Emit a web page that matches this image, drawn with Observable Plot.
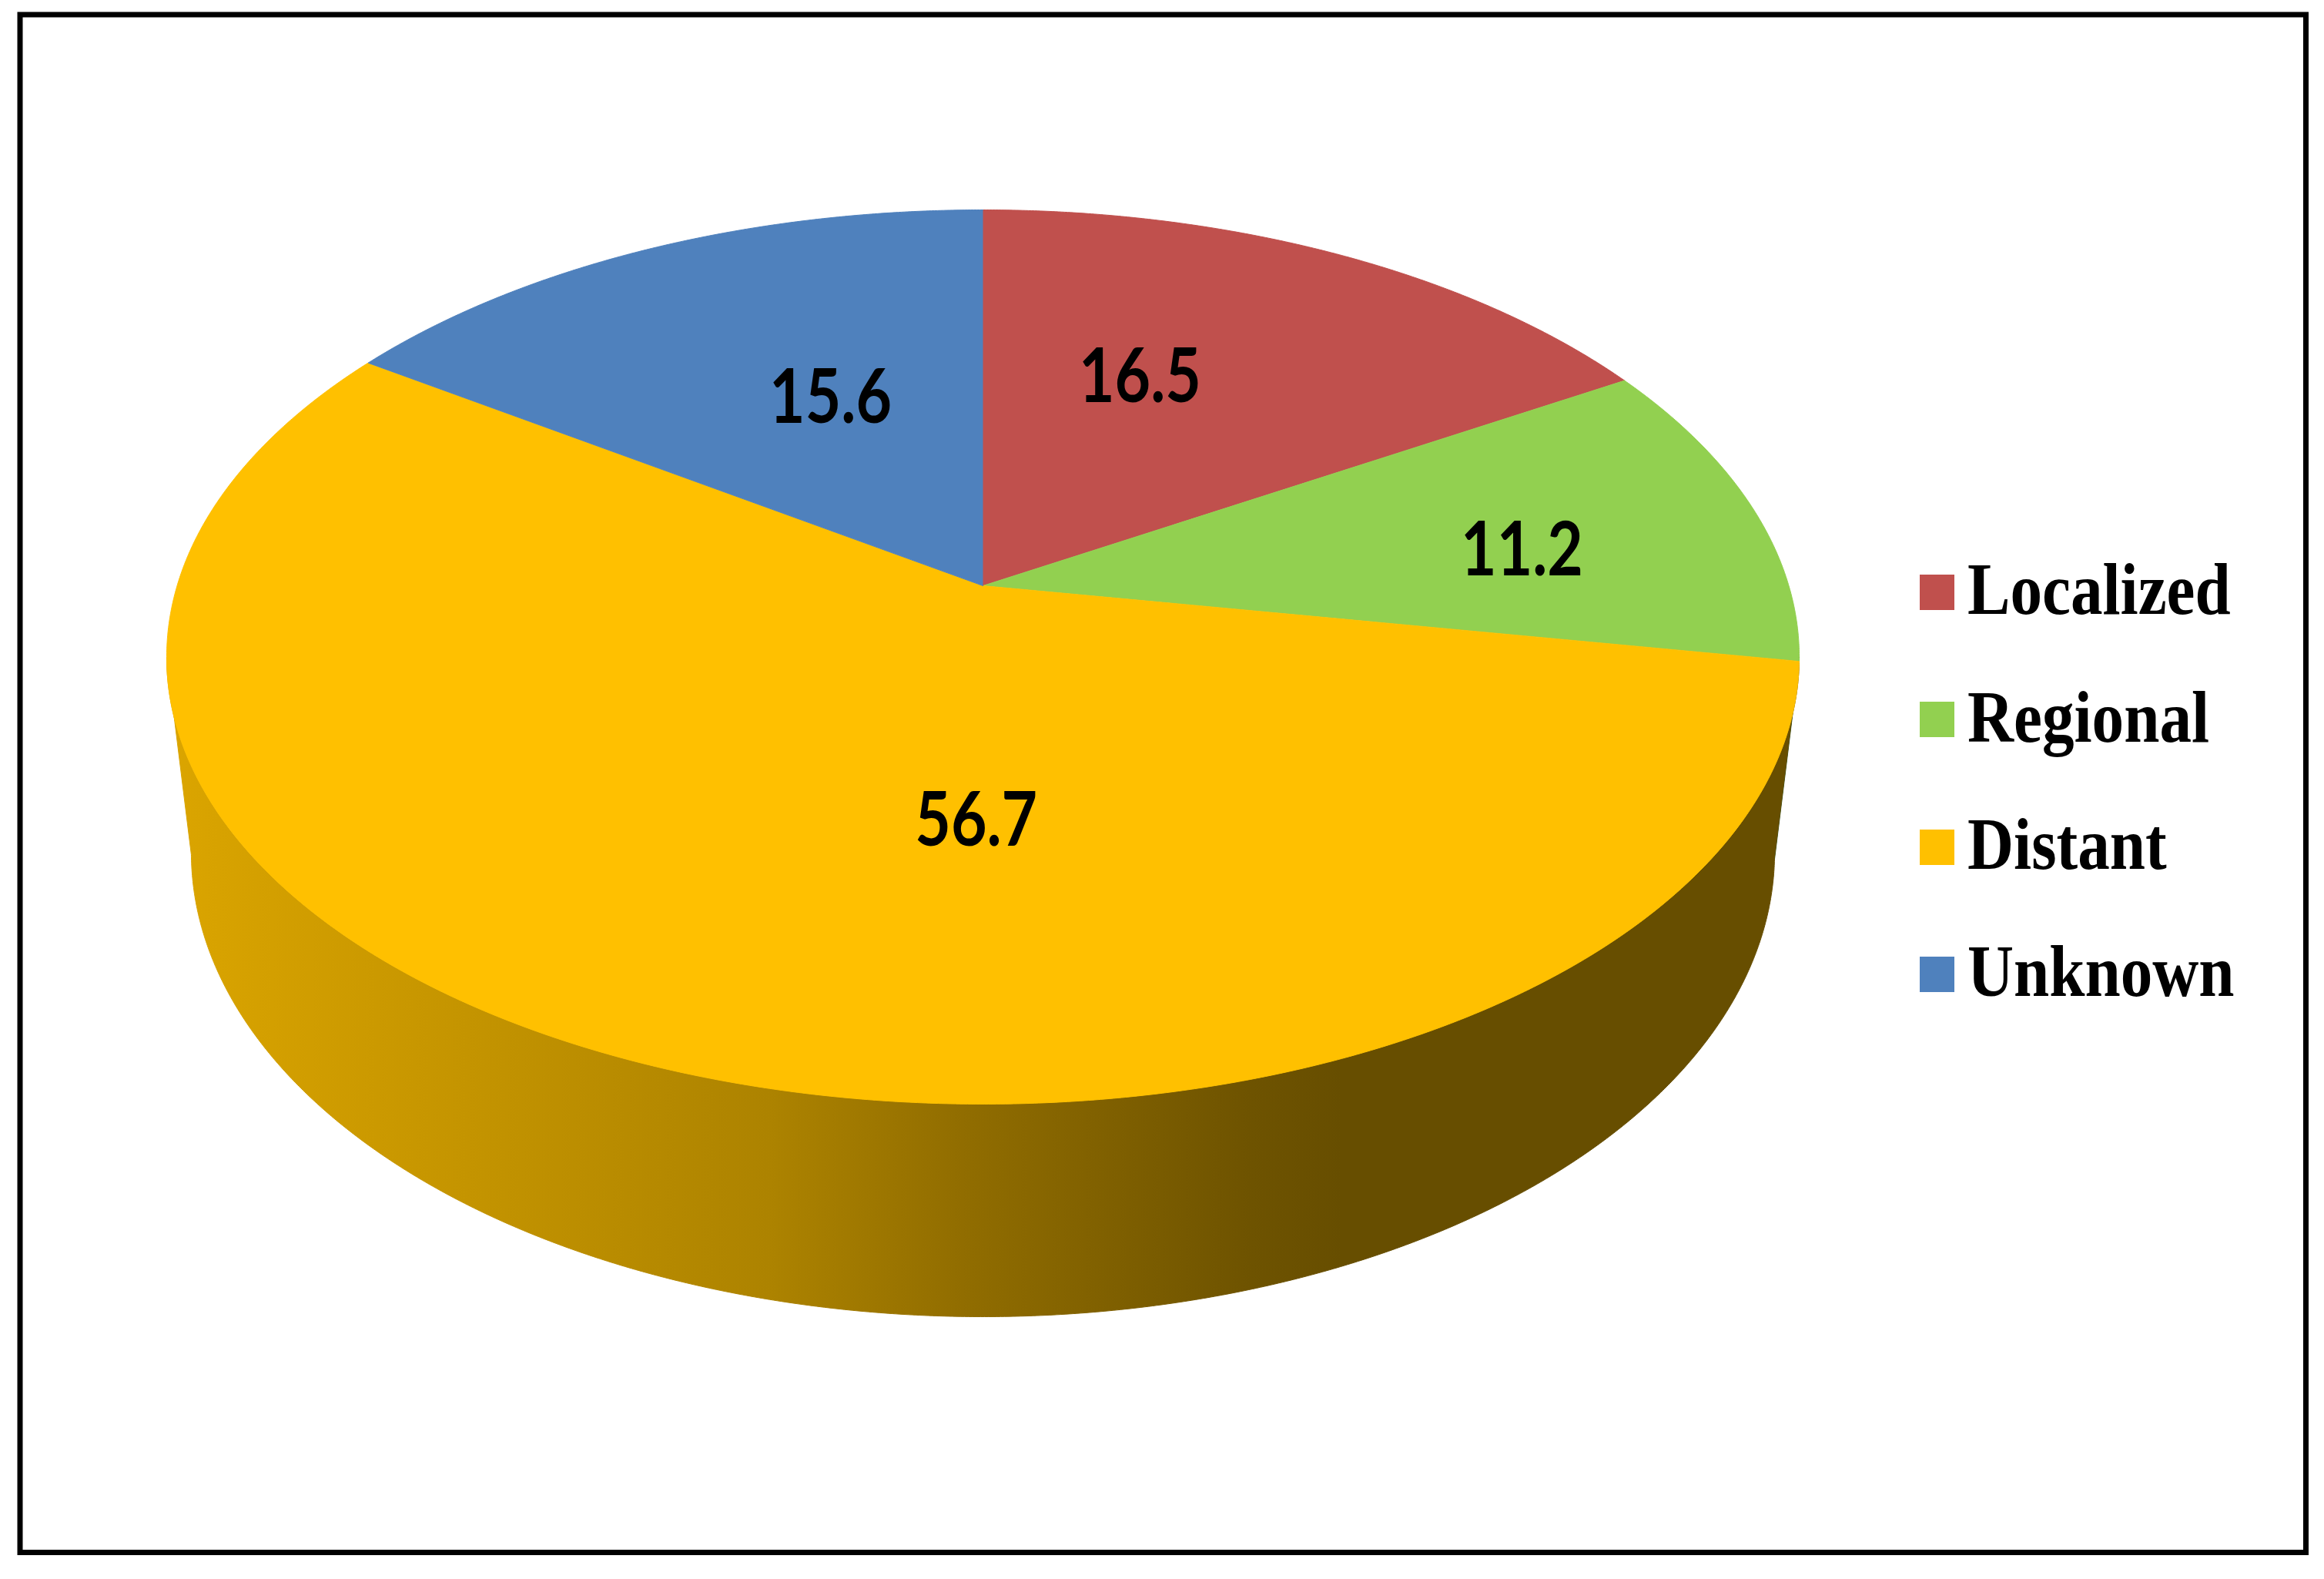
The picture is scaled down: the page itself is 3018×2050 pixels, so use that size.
<!DOCTYPE html>
<html>
<head>
<meta charset="utf-8">
<script src="https://cdn.jsdelivr.net/npm/d3@7"></script>
<script src="https://cdn.jsdelivr.net/npm/@observablehq/plot@0.6"></script>
<style>
  html, body { margin: 0; padding: 0; background: #fff; }
  #wrap { position: relative; width: 3018px; height: 2050px; overflow: hidden; }
  #wrap svg { position: absolute; left: 0; top: 0; }
  .lg-sq { position: absolute; }
  .lg-tx { position: absolute; font-family: "Liberation Serif", "Times New Roman", serif; font-weight: bold;
           font-size: 95px; line-height: 95px; white-space: nowrap; color: #000;
           transform: scaleX(0.875); transform-origin: left center; }
</style>
</head>
<body>
<div id="wrap"></div>
<script>
// ---------- data ----------
const categories = ["Localized", "Regional", "Distant", "Unknown"];
const values = [16.5, 11.2, 56.7, 15.6];
const colors = ["#C0504D", "#92D050", "#FFC000", "#4F81BD"];

// ---------- layout (3D view of the pie) ----------
const W = 3018, H = 2050;
const cx0 = 1276, cy0 = 760, A = 1046.5;       // apex position and scale of the pie in px
const k = 0.1593;                               // perspective strength
const sinA = 0.5406, cosA = Math.sqrt(1 - sinA * sinA); // tilt
const depth = 0.2963;                           // thickness relative to radius
const jj = depth * (k / cosA) * sinA;
// label anchors (angle in degrees clockwise from top, radius fraction) per slice
const labelAngle = [21.9, 82.6, 180.9, 336.6];
const labelRadius = [0.566, 0.684, 0.492, 0.512];
// side shading multipliers along the horizontal extent
const sideStops = [[0, 0.86], [0.369, 0.68], [0.487, 0.57], [0.664, 0.43], [0.72, 0.405], [1, 0.405]];

const rad = d => d * Math.PI / 180;
function topP(theta, rho = 1) {
  const c = Math.cos(theta), s = Math.sin(theta);
  const den = 1 + k * rho * c;
  return { u: rho * s / den, v: sinA * rho * c / den };
}
function botP(theta) {
  const c = Math.cos(theta), s = Math.sin(theta);
  const den = 1 + jj + k * c;
  return { u: s / den, v: (-depth * cosA + sinA * c) / den };
}

const total = d3.sum(values);
const slices = [];
let acc = 0;
categories.forEach((name, i) => {
  const a0 = acc / total * 2 * Math.PI;
  acc += values[i];
  const a1 = acc / total * 2 * Math.PI;
  slices.push({ name, value: values[i], color: colors[i], a0, a1, i });
});

const step = rad(0.25);
const topPts = [];
for (const s of slices) {
  topPts.push({ key: s.name, ...topP(0, 0), fill: s.color });
  const n = Math.max(2, Math.ceil((s.a1 - s.a0) / step));
  for (let t = 0; t <= n; t++) {
    const th = s.a0 + (s.a1 - s.a0) * t / n;
    topPts.push({ key: s.name, ...topP(th), fill: s.color });
  }
}

const vis0 = Math.acos(-k), vis1 = 2 * Math.PI - Math.acos(-k);
const sidePts = [];
for (const s of slices) {
  const b0 = Math.max(s.a0, vis0), b1 = Math.min(s.a1, vis1);
  if (b1 <= b0) continue;
  const n = Math.max(2, Math.ceil((b1 - b0) / step));
  const f = `url(#side-${s.i})`;
  for (let t = 0; t <= n; t++) {
    const th = b0 + (b1 - b0) * t / n;
    sidePts.push({ key: "side-" + s.name, ...topP(th), fill: f });
  }
  for (let t = n; t >= 0; t--) {
    const th = b0 + (b1 - b0) * t / n;
    sidePts.push({ key: "side-" + s.name, ...botP(th), fill: f });
  }
}

const fmt = d3.format(".1f");
const labels = slices.map(s => ({ ...topP(rad(labelAngle[s.i]), labelRadius[s.i]), text: fmt(s.value) }));

const plot = Plot.plot({
  width: W, height: H,
  marginLeft: 25.5, marginRight: 24, marginTop: 18.5, marginBottom: 35,
  x: { domain: [-1, 1], range: [cx0 - A, cx0 + A], axis: null },
  y: { domain: [-1, 1], range: [cy0 + A, cy0 - A], axis: null },
  color: { type: "identity" },
  style: { background: "#fff" },
  marks: [
    Plot.frame({ stroke: "#000", strokeWidth: 7 }),
    Plot.line(sidePts, { x: "u", y: "v", z: "key", fill: "fill", stroke: "fill", strokeWidth: 1 }),
    Plot.line(topPts, { x: "u", y: "v", z: "key", fill: "fill", stroke: "fill", strokeWidth: 1 }),
    Plot.text(labels, { x: "u", y: "v", text: "text", fontSize: 98, fontWeight: "bold",
      fontFamily: "Lato, 'Open Sans', sans-serif", fill: "#000", dy: 4, className: "pie-labels" })
  ]
});

// gradients for the side of the pie
const xs = plot.scale("x");
const ext = 1 / Math.sqrt(1 - k * k);
const gx1 = xs.apply(-ext), gx2 = xs.apply(ext);
const ns = "http://www.w3.org/2000/svg";
const defs = document.createElementNS(ns, "defs");
for (const s of slices) {
  const g = document.createElementNS(ns, "linearGradient");
  g.setAttribute("id", `side-${s.i}`);
  g.setAttribute("gradientUnits", "userSpaceOnUse");
  g.setAttribute("x1", gx1); g.setAttribute("x2", gx2);
  g.setAttribute("y1", 0); g.setAttribute("y2", 0);
  const base = d3.rgb(s.color);
  for (const [off, m] of sideStops) {
    const st = document.createElementNS(ns, "stop");
    st.setAttribute("offset", off);
    st.setAttribute("stop-color", d3.rgb(base.r * m, base.g * m, base.b * m).formatHex());
    g.appendChild(st);
  }
  defs.appendChild(g);
}
plot.insertBefore(defs, plot.firstChild);

// narrow the label glyphs like the original
plot.querySelectorAll(".pie-labels text").forEach(t => {
  const tr = t.getAttribute("transform");
  if (tr) {
    t.setAttribute("transform", tr + " scale(0.82,1)");
  } else {
    const x = +t.getAttribute("x") || 0;
    t.setAttribute("transform", `translate(${x},0) scale(0.82,1) translate(${-x},0)`);
  }
});

const wrap = document.getElementById("wrap");
wrap.appendChild(plot);

// legend
const lgLeft = 2493, lgSq = 46, lgTextLeft = 2555, lgBase0 = 798, lgStep = 165.3;
categories.forEach((name, i) => {
  const base = lgBase0 + i * lgStep;
  const sq = document.createElement("div");
  sq.className = "lg-sq";
  sq.style.left = lgLeft + "px";
  sq.style.top = (base - 52) + "px";
  sq.style.width = "45px";
  sq.style.height = lgSq + "px";
  sq.style.background = colors[i];
  wrap.appendChild(sq);
  const tx = document.createElement("div");
  tx.className = "lg-tx";
  tx.style.left = lgTextLeft + "px";
  tx.style.top = (base - 79.6) + "px";
  tx.textContent = name;
  wrap.appendChild(tx);
});
</script>
</body>
</html>
